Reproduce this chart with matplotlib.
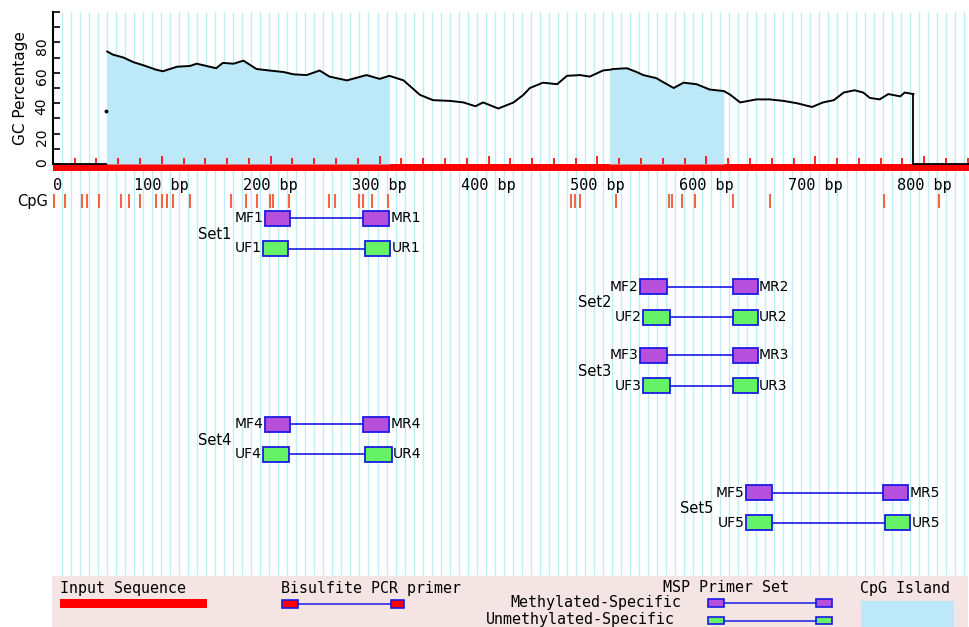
import numpy as np
import matplotlib
matplotlib.use('Agg')
import matplotlib.pyplot as plt
from matplotlib.patches import Rectangle
from matplotlib.ticker import FixedLocator, FuncFormatter
import matplotlib.transforms as mtransforms

# sequence and GC content (window = 100 bp)
seq_len = 842
gc_start = 49
gc_first = 35

gc_pos = [50, 55, 65, 74, 83, 95, 101, 114, 126, 132, 141, 150, 156, 166, 175,
          187, 199, 212, 221, 233, 245, 254, 270, 288, 300, 309, 322, 337, 349,
          365, 377, 388, 395, 409, 423, 432, 438, 450, 463, 472, 484, 493, 505,
          511, 515, 527, 536, 542, 554, 560, 570, 579, 591, 603, 616, 622, 631,
          646, 658, 671, 683, 697, 707, 717, 726, 736, 744, 750, 759, 767, 778,
          782, 790]
gc_val = [74, 72, 70, 67, 65, 62, 61, 64, 64.5, 66, 64.5, 63, 66.5, 66, 68,
          62.5, 61.5, 60.5, 59, 58.5, 61.5, 57.5, 55, 58.5, 56, 58, 55, 45.5, 42,
          41.5, 40.5, 38, 40.5, 36.5, 40.5, 45.5, 50, 53.5, 52.5, 58, 58.5, 57.5, 61.5,
          62, 62.5, 63, 60.5, 58.5, 56.5, 54, 50, 53.5, 52.5, 49, 48, 45.5, 40.5,
          42.5, 42.5, 41.5, 40, 37.5, 40.5, 42, 47, 48.5, 47, 43.5, 42.5, 46, 44.5,
          47, 46]

islands = [(49, 309), (511, 616)]

cpg_sites = [1, 11, 27, 31, 42, 63, 70, 80, 95, 100, 105, 110, 126, 164, 177,
             187, 199, 202, 217, 254, 259, 281, 285, 293, 308, 476, 479, 484,
             517, 566, 568, 578, 590, 624, 658, 763, 814]

# MSP primer sets: (start, end) in bp
set_names = ['Set1', 'Set2', 'Set3', 'Set4', 'Set5']
mf = [(195, 218), (539, 564), (539, 564), (195, 218), (636, 660)]
mr = [(285, 309), (624, 647), (624, 647), (285, 309), (762, 785)]
uf = [(193, 216), (542, 567), (542, 567), (193, 217), (636, 660)]
ur = [(287, 310), (624, 647), (624, 647), (287, 311), (764, 787)]
set_lane = [0, 1, 2, 3, 4]

# colours
red = '#ff0000'
blue = '#1a1ae6'
purple = '#b64fdc'
green = '#66f266'
island_col = '#bde8f7'
stripe_col = '#bdeef8'
cpg_col = '#f26645'
pink = '#f5e4e4'

mono = 'DejaVu Sans Mono'
sans = 'DejaVu Sans'

W, H = 970, 627
x0 = 52.8
fig = plt.figure(figsize=(W / 100, H / 100), dpi=100)

# background track axes (x in bp, y in rows from the top)
base = fig.add_axes([x0 / W, 0, 1 - x0 / W, 1])
base.set_xlim(0, seq_len)
base.set_ylim(H, 0)
base.axis('off')

base.vlines(np.arange(8.28, seq_len, 8.28), 12, 575, color=stripe_col, lw=1.0, zorder=0)
base.add_patch(Rectangle((0, 164), seq_len, 7, color=red, lw=0, zorder=2))
base.vlines(cpg_sites, 194, 208, color=cpg_col, lw=1.5, zorder=2)

lane_top = 218.2
lane_step = 68.6
pair_gap = 30.3
box_h = 15


def primer_pair(fwd, rev, y, fill, fname, rname):
    base.plot([fwd[1], rev[0]], [y, y], color=blue, lw=1.2, zorder=3)
    for a, b in (fwd, rev):
        base.add_patch(Rectangle((a, y - box_h / 2), b - a, box_h, fc=fill,
                                 ec=blue, lw=1.3, zorder=4))
    base.annotate(fname, (fwd[0], y), xytext=(-1, 0), textcoords='offset points',
                  ha='right', va='center', fontsize=10, family=sans)
    base.annotate(rname, (rev[1], y), xytext=(1, 0), textcoords='offset points',
                  ha='left', va='center', fontsize=10, family=sans)


for i, name in enumerate(set_names):
    ym = lane_top + lane_step * set_lane[i]
    yu = ym + pair_gap
    n = name[-1]
    primer_pair(mf[i], mr[i], ym, purple, 'MF' + n, 'MR' + n)
    primer_pair(uf[i], ur[i], yu, green, 'UF' + n, 'UR' + n)
    base.annotate(name, (uf[i][0], (ym + yu) / 2 + 1), xytext=(-23, 0),
                  textcoords='offset points', ha='right', va='center',
                  fontsize=10.5, family=sans)

# GC percentage plot
ax = fig.add_axes([x0 / W, 1 - 164 / H, 1 - x0 / W, 152 / H])
ax.set_facecolor('none')
ax.set_xlim(0, seq_len)
ax.set_ylim(0, 100)
for s in ['top', 'right', 'bottom']:
    ax.spines[s].set_visible(False)
ax.spines['left'].set_linewidth(1.5)

pos = np.array(gc_pos)
val = np.array(gc_val)
for a, b in islands:
    m = (pos >= a) & (pos <= b)
    ax.fill_between(pos[m], 0, val[m], color=island_col, lw=0, zorder=1)

ax.plot([0, gc_start], [0, 0], color='k', lw=1.3, clip_on=False, zorder=3)
ax.plot([gc_start], [gc_first], 'o', color='k', ms=1.8, zorder=3)
ax.plot(gc_pos, gc_val, color='k', lw=1.4, zorder=3)
ax.plot([gc_pos[-1], gc_pos[-1], seq_len], [gc_val[-1], 0, 0], color='k', lw=1.3,
        clip_on=False, zorder=3)

ax.yaxis.set_major_locator(FixedLocator([0, 20, 40, 60, 80]))
ax.yaxis.set_minor_locator(FixedLocator([10, 30, 50, 70, 90, 100]))
ax.tick_params(axis='y', which='both', direction='in', length=5, width=1.2,
               labelsize=10, pad=3, labelrotation=90)
ax.set_ylabel('GC Percentage', fontsize=11, labelpad=5)

ax.xaxis.set_major_locator(FixedLocator(range(0, 900, 100)))
ax.xaxis.set_minor_locator(FixedLocator(range(20, seq_len, 20)))
ax.xaxis.set_major_formatter(FuncFormatter(lambda v, p: '0' if v == 0 else '%d bp' % v))
ax.tick_params(axis='x', which='major', direction='in', length=6, width=1.2,
               color=red, pad=10, labelsize=11)
ax.tick_params(axis='x', which='minor', direction='in', length=4.5, width=1.2, color=red)
xlabels = ax.get_xticklabels()
for lab in xlabels:
    lab.set_family(mono)
# the "0" label sits a little right of its tick
xlabels[0].set_transform(xlabels[0].get_transform() +
                         mtransforms.ScaledTranslation(4.5 / 100, 0, fig.dpi_scale_trans))

# legend strip (pixel coordinates)
lay = fig.add_axes([0, 0, 1, 1])
lay.set_facecolor('none')
lay.set_xlim(0, W)
lay.set_ylim(H, 0)
lay.axis('off')

lay.add_patch(Rectangle((52.3, 576), 915.7, 51, color=pink, lw=0))
lkw = dict(fontsize=10.8, family=mono, va='center')
lay.text(60, 588, 'Input Sequence', ha='left', **lkw)
lay.add_patch(Rectangle((60, 598.5), 146.7, 9, color=red, lw=0))

lay.text(281, 588, 'Bisulfite PCR primer', ha='left', **lkw)
lay.plot([297.7, 390.7], [603.5, 603.5], color=blue, lw=1.1)
lay.add_patch(Rectangle((281.7, 599.5), 16, 8, fc=red, ec=blue, lw=1.2))
lay.add_patch(Rectangle((390.7, 599.5), 13.6, 8, fc=red, ec=blue, lw=1.2))

lay.text(789, 588, 'MSP Primer Set', ha='right', **lkw)
lay.text(510, 603, 'Methylated-Specific', ha='left', **lkw)
lay.text(486, 619.5, 'Unmethylated-Specific', ha='left', **lkw)
for yb, fill in ((599.3, purple), (616.7, green)):
    lay.plot([724.3, 816], [yb + 3.8, yb + 3.8], color=blue, lw=1.1)
    lay.add_patch(Rectangle((708.3, yb), 16, 7.6, fc=fill, ec=blue, lw=1.2))
    lay.add_patch(Rectangle((816, yb), 15.7, 7.6, fc=fill, ec=blue, lw=1.2))

lay.text(860, 588, 'CpG Island', ha='left', **lkw)
lay.add_patch(Rectangle((861, 601), 93.3, 26, color=island_col, lw=0))

lay.text(48, 201.5, 'CpG', ha='right', va='center', fontsize=10.5, family=sans)

fig.savefig('out.png', dpi=100)
